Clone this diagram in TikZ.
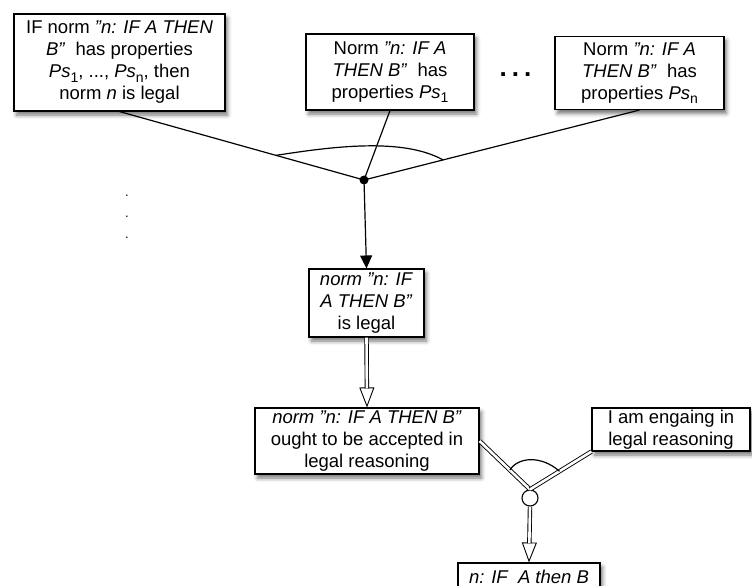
\documentclass[tikz,border=0pt]{standalone}
\usepackage{fontspec}
\setmainfont{Liberation Sans}
\usetikzlibrary{arrows.meta,shadows.blur,calc}
\newcommand\sbs[1]{\raisebox{-4.5pt}{\fontsize{14}{14}\selectfont #1}}
\begin{document}
\begin{tikzpicture}[x=1pt,y=-1pt,
  box/.style={draw, line width=1.1pt, fill=white, inner sep=0pt, align=center,
    font=\fontsize{18.5}{22}\selectfont,
    blur shadow={shadow xshift=2.5pt, shadow yshift=-4pt, shadow blur radius=4pt, shadow opacity=55}},
  conn/.style={line width=1.2pt},
  dbl/.style={line width=0.9pt, double=white, double distance=2.6pt},
  hollow/.style={line width=0.9pt, -{Triangle[open,length=20pt,width=15pt]}},
  solidtip/.style={line width=1.2pt, -{Triangle[length=13pt,width=12pt]}},
  juncfull/.style={circle, fill=black, inner sep=0pt, minimum size=9pt},
  juncopen/.style={circle, draw, line width=1.1pt, fill=white, inner sep=0pt, minimum size=16pt},
  dotstyle/.style={inner sep=0pt, align=center}
]
\useasboundingbox (0,0) rectangle (752,586);

\node[box, minimum width=211pt, minimum height=97pt] (b1) at (119.5,62.5)
  {IF norm \textit{"n: IF A THEN}\\ \textit{B"}\ \ has properties\\ \textit{Ps}\sbs{1}, ..., \textit{Ps}\sbs{n}, then\\ norm \textit{n} is legal};
\node[box, minimum width=168pt, minimum height=76pt] (b2) at (390,72)
  {Norm \textit{"n: IF A}\\ \textit{THEN B"}\ \ has\\ properties \textit{Ps}\sbs{1}};
\node[box, minimum width=169pt, minimum height=73pt] (b3) at (639.5,73)
  {Norm \textit{"n: IF A}\\ \textit{THEN B"}\ \ has\\ properties \textit{Ps}\sbs{n}};
\node[dotstyle, anchor=base, font=\fontsize{26}{26}\selectfont\bfseries] (dots) at (515.5,77) {.\kern5pt.\kern5pt.};
\node[dotstyle, font=\fontsize{13}{21}\selectfont] (vdots) at (127,217) {.\\.\\.};

\node[box, minimum width=115pt, minimum height=68pt] (b4) at (366.5,303)
  {\textit{norm "n: IF}\\ \textit{A THEN B"}\\ is legal};
\node[box, minimum width=224pt, minimum height=66pt] (b5) at (367,441)
  {\textit{norm "n: IF A THEN B"}\\ ought to be accepted in\\ legal reasoning};
\node[box, minimum width=158pt, minimum height=43pt] (b6) at (671,429.5)
  {I am engaing in\\ legal reasoning};
\node[box, minimum width=142pt, minimum height=27pt] (b7) at (529,576.5)
  {\textit{n: IF\ \ A then B}};

\node[juncfull] (j1) at (364,180) {};
\node[juncopen] (j2) at (530,498) {};

% upper convergence
\draw[conn] (b1.south) -- (j1.center) coordinate[pos=0.64] (a1);
\draw[conn] (b2.south) -- (j1.center);
\draw[conn] (b3.south) -- (j1.center) coordinate[pos=0.713] (a2);
\draw[conn] (a1) .. controls (330,147) and (402,137) .. (a2);
\draw[solidtip] (j1.center) -- (b4.north);

% double arrow b4 -> b5
\draw[hollow] (b4.south) -- (b5.north);
\draw[dbl, shorten >=19pt] (b4.south) -- (b5.north);

% lower convergence
\draw[dbl] (b5.east) -- (j2.north) coordinate[pos=0.6] (c1);
\draw[dbl] (b6.south west) -- (j2.north) coordinate[pos=0.52] (c2);
\draw[conn] (c1) .. controls (518,457) and (541,455) .. (c2);

% double arrow j2 -> b7
\draw[hollow] (j2.south) -- (b7.north);
\draw[dbl, shorten >=19pt] (j2.south) -- (b7.north);
\end{tikzpicture}
\end{document}
